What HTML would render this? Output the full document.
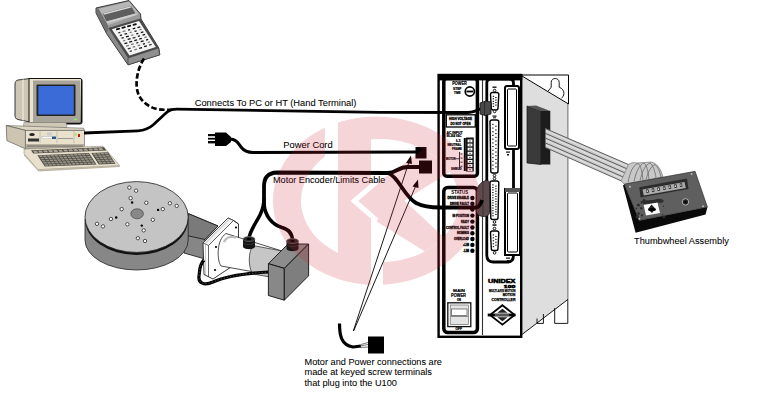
<!DOCTYPE html>
<html><head><meta charset="utf-8">
<style>
html,body{margin:0;padding:0;background:#fff;}
body{width:759px;height:401px;overflow:hidden;position:relative;}
svg{position:absolute;left:0;top:0;}
.t{font-family:"Liberation Sans",sans-serif;fill:#000;}
.lab{stroke:#000;stroke-width:0.06;}
</style></head><body>
<svg width="759" height="401" viewBox="0 0 759 401">
<rect width="759" height="401" fill="#fff"/>
<!-- ===== CONTROLLER ===== -->
<g id="ctrl">
  <!-- side panel -->
  <polygon points="522,76 568,104 568,299.5 522,334.5" fill="#dedede"/>
  <polyline points="522,75 568.5,75 568.5,104 522,76" fill="none" stroke="#000" stroke-width="1"/>
  <line x1="567.8" y1="104" x2="567.8" y2="299" stroke="#999" stroke-width="1.6"/>
  <line x1="522" y1="334.5" x2="567.8" y2="299.5" stroke="#000" stroke-width="0.9"/>
  <path d="M554.7,308 L554.7,323.4 L567.8,323.4 L567.8,299" fill="none" stroke="#000" stroke-width="0.9"/>
  <path d="M537,318.5 L537,323.4 L543.4,323.4 L543.4,314" fill="none" stroke="#000" stroke-width="0.9"/>
  <!-- keyhole -->
  <path d="M548,91.2 C549,89.5 550.5,88.5 551.2,87.2 L551.2,82.4 C551.2,77.2 559.2,77.2 559.2,82.4 L559.2,87.2 C562,88.3 564,90.5 563.9,93.5 C563.8,95.5 562.6,97.2 561.5,98.3" fill="none" stroke="#000" stroke-width="0.9"/>
  <!-- front box -->
  <rect x="438.6" y="75" width="82.6" height="261.8" fill="#fff" stroke="#000" stroke-width="2.4"/>
  <line x1="482.5" y1="76" x2="482.5" y2="335" stroke="#333" stroke-width="1.1"/>
  <!-- left panels -->
  <rect x="443.8" y="78.5" width="33.6" height="97.7" rx="3" fill="none" stroke="#000" stroke-width="3.5"/>
  <rect x="438" y="74" width="84.2" height="6.4" fill="#000"/>
  <rect x="443.8" y="187.4" width="33.6" height="145.2" rx="4" fill="none" stroke="#000" stroke-width="3.5"/>
  <!-- middle panel -->
  <path d="M486.8,83 Q486.8,79 490.5,79 L510,79 Q513.5,79 513.5,83 L513.5,255 Q513.5,262 508,262 L493,262 Q486.8,262 486.8,255 Z" fill="none" stroke="#000" stroke-width="2.8"/>

  <!-- POWER section -->
  <g class="t" font-weight="bold" stroke="#000" stroke-width="0.2">
    <text x="452.3" y="84.8" font-size="4.6" textLength="14.5" lengthAdjust="spacingAndGlyphs">POWER</text>
    <text x="453" y="90.3" font-size="3" textLength="8.5" lengthAdjust="spacingAndGlyphs">STEP</text>
    <text x="454" y="93.8" font-size="3" textLength="6.5" lengthAdjust="spacingAndGlyphs">TIME</text>
  </g>
  <circle cx="469.8" cy="91.5" r="4.6" fill="#fff" stroke="#000" stroke-width="1.6"/>
  <rect x="466.4" y="90.6" width="6.8" height="1.8" fill="#000"/>
  <rect x="446.3" y="114.8" width="29" height="12.2" fill="#fff" stroke="#000" stroke-width="1.3"/>
  <g class="t" font-weight="bold" font-size="3.4" stroke="#000" stroke-width="0.3">
    <text x="449" y="119.8" textLength="23" lengthAdjust="spacingAndGlyphs">HIGH VOLTAGE</text>
    <text x="450.5" y="124.6" textLength="20" lengthAdjust="spacingAndGlyphs">DO NOT OPEN</text>
  </g>
  <g class="t" font-weight="bold" stroke="#000" stroke-width="0.2">
    <text x="446.5" y="133.6" font-size="3" textLength="16" lengthAdjust="spacingAndGlyphs">AC INPUT</text>
    <text x="446.5" y="137" font-size="3" textLength="15" lengthAdjust="spacingAndGlyphs">90-264 VAC</text>
  </g>
  <!-- terminal block -->
  <rect x="463.8" y="138" width="2" height="33" fill="#000"/>
  <rect x="466" y="137.5" width="7.8" height="34" fill="#111"/>
  <g fill="#fff">
    <rect x="467.6" y="139.5" width="4.8" height="2.8"/>
    <rect x="467.6" y="143.6" width="4.8" height="2.8"/>
    <rect x="467.6" y="147.7" width="4.8" height="2.8"/>
    <rect x="467.6" y="151.8" width="4.8" height="2.8"/>
    <rect x="467.6" y="155.9" width="4.8" height="2.8"/>
    <rect x="467.6" y="160.0" width="4.8" height="2.8"/>
    <rect x="467.6" y="164.1" width="4.8" height="2.8"/>
    <rect x="467.6" y="168.2" width="4.8" height="2.8"/>
  </g>
  <g fill="#000">
    <rect x="469.4" y="140.5" width="1.2" height="1"/>
    <rect x="469.4" y="144.6" width="1.2" height="1"/>
    <rect x="469.4" y="148.7" width="1.2" height="1"/>
    <rect x="469.4" y="152.8" width="1.2" height="1"/>
    <rect x="469.4" y="156.9" width="1.2" height="1"/>
    <rect x="469.4" y="161.0" width="1.2" height="1"/>
    <rect x="469.4" y="165.1" width="1.2" height="1"/>
    <rect x="469.4" y="169.2" width="1.2" height="1"/>
  </g>
  <g class="t" font-weight="bold" font-size="3" stroke="#000" stroke-width="0.2">
    <text x="456" y="141.8" textLength="5" lengthAdjust="spacingAndGlyphs">L1</text>
    <text x="447.5" y="146.2" textLength="14" lengthAdjust="spacingAndGlyphs">NEUTRAL</text>
    <text x="452" y="150.4" textLength="10" lengthAdjust="spacingAndGlyphs">FRAME</text>
    <text x="446" y="159.6" textLength="9.5" lengthAdjust="spacingAndGlyphs">MOTOR</text>
    <text x="451" y="169.8" textLength="10.5" lengthAdjust="spacingAndGlyphs">SHIELD</text>
  </g>
  <g fill="#111">
    <rect x="459" y="152" width="0.9" height="17"/>
    <rect x="455.5" y="158.4" width="3.5" height="0.8"/>
    <rect x="460.5" y="153.5" width="2" height="0.9"/><rect x="460.5" y="157.6" width="2" height="0.9"/>
    <rect x="460.5" y="161.7" width="2" height="0.9"/><rect x="460.5" y="165.8" width="2" height="0.9"/>
  </g>
  <!-- STATUS section -->
  <text class="t" x="451.2" y="194.4" font-size="5" font-weight="bold" textLength="17" lengthAdjust="spacingAndGlyphs">STATUS</text>
  <g fill="#000">
    <circle cx="472.4" cy="198" r="2.2"/><circle cx="472.4" cy="203.8" r="2.2"/>
    <circle cx="472.4" cy="209.6" r="2.2"/><circle cx="472.4" cy="215.6" r="2.2"/>
    <circle cx="472.4" cy="221.6" r="2.2"/><circle cx="472.4" cy="227.5" r="2.2"/>
    <circle cx="472.4" cy="233.2" r="2.2"/><circle cx="472.4" cy="239" r="2.2"/>
    <circle cx="472.4" cy="244.9" r="2.2"/><circle cx="472.4" cy="250.7" r="2.2"/>
  </g>
  <g class="t" font-weight="bold" font-size="3" stroke="#000" stroke-width="0.3">
    <text x="447.5" y="199" textLength="21.5" lengthAdjust="spacingAndGlyphs">DRIVE ENABLE</text>
    <text x="450" y="204.8" textLength="19" lengthAdjust="spacingAndGlyphs">DRIVE FAULT</text>
    <text x="452.5" y="216.6" textLength="16.5" lengthAdjust="spacingAndGlyphs">IN POSITION</text>
    <text x="461" y="222.6" textLength="8" lengthAdjust="spacingAndGlyphs">READY</text>
    <text x="446" y="228.5" textLength="23" lengthAdjust="spacingAndGlyphs">CONTROL FAULT</text>
    <text x="457" y="234.2" textLength="12" lengthAdjust="spacingAndGlyphs">HOMING</text>
    <text x="454" y="240" textLength="15" lengthAdjust="spacingAndGlyphs">OVERLOAD</text>
    <text x="463" y="245.9" textLength="6" lengthAdjust="spacingAndGlyphs">+LIM</text>
    <text x="463" y="251.7" textLength="6" lengthAdjust="spacingAndGlyphs">-LIM</text>
  </g>
  <!-- MAIN POWER -->
  <g class="t" font-weight="bold" stroke="#000" stroke-width="0.2">
    <text x="453" y="291.8" font-size="4.2" textLength="12" lengthAdjust="spacingAndGlyphs">MAIN</text>
    <text x="451" y="297.2" font-size="4.5" textLength="15" lengthAdjust="spacingAndGlyphs">POWER</text>
    <text x="457" y="300.9" font-size="2.6" textLength="4" lengthAdjust="spacingAndGlyphs">ON</text>
    <text x="455.5" y="330.4" font-size="2.8" textLength="6.5" lengthAdjust="spacingAndGlyphs">OFF</text>
  </g>
  <rect x="447.8" y="302.8" width="23" height="23.8" fill="#fff" stroke="#111" stroke-width="1.3"/>
  <rect x="450.2" y="305" width="18.2" height="19.5" fill="#e4e4e4" stroke="#555" stroke-width="0.6"/>
  <rect x="451.5" y="309" width="15.5" height="6.5" fill="#fff" stroke="#333" stroke-width="0.6"/>
  <rect x="450.2" y="316" width="18.2" height="1" fill="#888"/>

  <!-- middle connectors -->
  <g><path d="M490.5,94.5 Q490.5,92.5 492.5,92.5 L496.8,92.5 Q498.8,92.5 498.8,94.5 L498.0,108.0 Q498.0,110.0 496.2,110.0 L493.1,110.0 Q491.3,110.0 491.3,108.0 Z" fill="#fff" stroke="#000" stroke-width="1.4"/><rect x="492.7" y="95.8" width="1.4" height="1.1" fill="#111"/><rect x="492.7" y="98.2" width="1.4" height="1.1" fill="#111"/><rect x="492.7" y="100.8" width="1.4" height="1.1" fill="#111"/><rect x="492.7" y="103.2" width="1.4" height="1.1" fill="#111"/><rect x="492.7" y="105.8" width="1.4" height="1.1" fill="#111"/><rect x="495.2" y="97.0" width="1.4" height="1.1" fill="#111"/><rect x="495.2" y="99.5" width="1.4" height="1.1" fill="#111"/><rect x="495.2" y="102.0" width="1.4" height="1.1" fill="#111"/><rect x="495.2" y="104.5" width="1.4" height="1.1" fill="#111"/><path d="M490,122 Q490,120 492,120 L496.8,120 Q498.8,120 498.8,122 L498.0,171 Q498.0,173 496.2,173 L492.6,173 Q490.8,173 490.8,171 Z" fill="#fff" stroke="#000" stroke-width="1.4"/><rect x="492.2" y="123.8" width="1.4" height="1.1" fill="#111"/><rect x="492.2" y="127.5" width="1.4" height="1.1" fill="#111"/><rect x="492.2" y="131.2" width="1.4" height="1.1" fill="#111"/><rect x="492.2" y="134.9" width="1.4" height="1.1" fill="#111"/><rect x="492.2" y="138.6" width="1.4" height="1.1" fill="#111"/><rect x="492.2" y="142.3" width="1.4" height="1.1" fill="#111"/><rect x="492.2" y="146.0" width="1.4" height="1.1" fill="#111"/><rect x="492.2" y="149.7" width="1.4" height="1.1" fill="#111"/><rect x="492.2" y="153.4" width="1.4" height="1.1" fill="#111"/><rect x="492.2" y="157.1" width="1.4" height="1.1" fill="#111"/><rect x="492.2" y="160.8" width="1.4" height="1.1" fill="#111"/><rect x="492.2" y="164.5" width="1.4" height="1.1" fill="#111"/><rect x="492.2" y="168.2" width="1.4" height="1.1" fill="#111"/><rect x="495.2" y="125.7" width="1.4" height="1.1" fill="#111"/><rect x="495.2" y="129.4" width="1.4" height="1.1" fill="#111"/><rect x="495.2" y="133.1" width="1.4" height="1.1" fill="#111"/><rect x="495.2" y="136.8" width="1.4" height="1.1" fill="#111"/><rect x="495.2" y="140.5" width="1.4" height="1.1" fill="#111"/><rect x="495.2" y="144.2" width="1.4" height="1.1" fill="#111"/><rect x="495.2" y="147.8" width="1.4" height="1.1" fill="#111"/><rect x="495.2" y="151.5" width="1.4" height="1.1" fill="#111"/><rect x="495.2" y="155.2" width="1.4" height="1.1" fill="#111"/><rect x="495.2" y="158.9" width="1.4" height="1.1" fill="#111"/><rect x="495.2" y="162.6" width="1.4" height="1.1" fill="#111"/><rect x="495.2" y="166.3" width="1.4" height="1.1" fill="#111"/><path d="M490,183 Q490,181 492,181 L496.8,181 Q498.8,181 498.8,183 L498.0,217.5 Q498.0,219.5 496.2,219.5 L492.6,219.5 Q490.8,219.5 490.8,217.5 Z" fill="#fff" stroke="#000" stroke-width="1.4"/><rect x="492.2" y="184.3" width="1.4" height="1.1" fill="#111"/><rect x="492.2" y="186.9" width="1.4" height="1.1" fill="#111"/><rect x="492.2" y="189.4" width="1.4" height="1.1" fill="#111"/><rect x="492.2" y="192.0" width="1.4" height="1.1" fill="#111"/><rect x="492.2" y="194.6" width="1.4" height="1.1" fill="#111"/><rect x="492.2" y="197.2" width="1.4" height="1.1" fill="#111"/><rect x="492.2" y="199.8" width="1.4" height="1.1" fill="#111"/><rect x="492.2" y="202.3" width="1.4" height="1.1" fill="#111"/><rect x="492.2" y="204.9" width="1.4" height="1.1" fill="#111"/><rect x="492.2" y="207.5" width="1.4" height="1.1" fill="#111"/><rect x="492.2" y="210.1" width="1.4" height="1.1" fill="#111"/><rect x="492.2" y="212.6" width="1.4" height="1.1" fill="#111"/><rect x="492.2" y="215.2" width="1.4" height="1.1" fill="#111"/><rect x="495.2" y="185.6" width="1.4" height="1.1" fill="#111"/><rect x="495.2" y="188.2" width="1.4" height="1.1" fill="#111"/><rect x="495.2" y="190.7" width="1.4" height="1.1" fill="#111"/><rect x="495.2" y="193.3" width="1.4" height="1.1" fill="#111"/><rect x="495.2" y="195.9" width="1.4" height="1.1" fill="#111"/><rect x="495.2" y="198.5" width="1.4" height="1.1" fill="#111"/><rect x="495.2" y="201.0" width="1.4" height="1.1" fill="#111"/><rect x="495.2" y="203.6" width="1.4" height="1.1" fill="#111"/><rect x="495.2" y="206.2" width="1.4" height="1.1" fill="#111"/><rect x="495.2" y="208.8" width="1.4" height="1.1" fill="#111"/><rect x="495.2" y="211.3" width="1.4" height="1.1" fill="#111"/><rect x="495.2" y="213.9" width="1.4" height="1.1" fill="#111"/><path d="M490.5,233 Q490.5,231 492.5,231 L496.8,231 Q498.8,231 498.8,233 L498.0,248.5 Q498.0,250.5 496.2,250.5 L493.1,250.5 Q491.3,250.5 491.3,248.5 Z" fill="#fff" stroke="#000" stroke-width="1.4"/><rect x="492.7" y="234.4" width="1.4" height="1.1" fill="#111"/><rect x="492.7" y="237.3" width="1.4" height="1.1" fill="#111"/><rect x="492.7" y="240.2" width="1.4" height="1.1" fill="#111"/><rect x="492.7" y="243.2" width="1.4" height="1.1" fill="#111"/><rect x="492.7" y="246.1" width="1.4" height="1.1" fill="#111"/><rect x="495.2" y="235.9" width="1.4" height="1.1" fill="#111"/><rect x="495.2" y="238.8" width="1.4" height="1.1" fill="#111"/><rect x="495.2" y="241.7" width="1.4" height="1.1" fill="#111"/><rect x="495.2" y="244.6" width="1.4" height="1.1" fill="#111"/><circle cx="494.6" cy="90.5" r="1.3" fill="#fff" stroke="#000" stroke-width="0.9"/>
  <circle cx="494.6" cy="111.5" r="1.3" fill="#fff" stroke="#000" stroke-width="0.9"/>
  <circle cx="494.5" cy="175.5" r="1.3" fill="#fff" stroke="#000" stroke-width="0.9"/>
  <circle cx="494.5" cy="178.6" r="1.3" fill="#fff" stroke="#000" stroke-width="0.9"/>
  <circle cx="494.5" cy="222" r="1.3" fill="#fff" stroke="#000" stroke-width="0.9"/>
  <circle cx="494.5" cy="228.5" r="1.3" fill="#fff" stroke="#000" stroke-width="0.9"/>
  <circle cx="494.6" cy="252.8" r="1.3" fill="#fff" stroke="#000" stroke-width="0.9"/>
  </g>
  <g fill="#111">
    <rect x="492.5" y="86.5" width="4" height="1.4"/>
    <rect x="492.5" y="115.5" width="4" height="1.2"/><rect x="493" y="117.3" width="3" height="1"/>
    <rect x="492.5" y="224.3" width="4" height="1.5"/>
  </g>
  <!-- centronics -->
  <rect x="505" y="86" width="14" height="63" rx="2" fill="#fff" stroke="#000" stroke-width="2"/>
  <rect x="507.5" y="89" width="9" height="57" rx="1" fill="#fff" stroke="#000" stroke-width="1"/>
  <rect x="505" y="189" width="15" height="66" fill="#fff" stroke="#000" stroke-width="2"/>
  <rect x="505" y="188" width="15" height="4" fill="#555"/>
  <rect x="507.5" y="193" width="10" height="59" rx="1" fill="#fff" stroke="#000" stroke-width="1"/>
  <g fill="#111">
    <rect x="506" y="151.5" width="4" height="1.2"/><rect x="507" y="154" width="2" height="1.5"/>
    <rect x="506" y="257.5" width="4" height="1.2"/><rect x="507" y="260" width="3" height="1"/>
  </g>
  <!-- UNIDEX -->
  <g class="t" font-weight="bold" stroke="#000" stroke-width="0.5">
    <text x="488" y="283.2" font-size="5.4" textLength="27.4" lengthAdjust="spacingAndGlyphs">UNIDEX</text>
    <text x="503.8" y="288.2" font-size="4.4" textLength="11.6" lengthAdjust="spacingAndGlyphs">100</text>
  </g>
  <g class="t" font-weight="bold" font-size="3.6" stroke="#000" stroke-width="0.25">
    <text x="489" y="292.4" textLength="26.4" lengthAdjust="spacingAndGlyphs">MULTI-AXIS MOTION</text>
    <text x="502.7" y="296.2" textLength="12.7" lengthAdjust="spacingAndGlyphs">MOTION</text>
    <text x="491.5" y="300.6" textLength="23.9" lengthAdjust="spacingAndGlyphs">CONTROLLER</text>
  </g>
  <!-- diamond logo -->
  <polygon points="502.4,305.2 514.7,315 502.4,324.6 490,315" fill="#fff" stroke="#000" stroke-width="1.8"/>
  <polygon points="502.4,308.8 507.5,312.8 497.3,312.8" fill="#222"/>
  <polygon points="502.4,321.2 507.5,317.2 497.3,317.2" fill="#222"/>
  <rect x="487.7" y="313.6" width="27.7" height="2.8" fill="#000"/>
  <rect x="495" y="314.5" width="14" height="1" fill="#aaa"/>
</g>

<!-- ===== HAND TERMINAL ===== -->
<g id="ht">
  <polygon points="96,8 129,0.5 140.5,14 141,19 158.8,48 159.8,54.8 128,64.8 106.5,33.5 96,13" fill="#8a8a8a" stroke="#2a2a2a" stroke-width="0.9"/>
  <polygon points="98.5,8.8 129,1.5 139.5,14.2 108,25.5" fill="#b6b6b6"/>
  <polygon points="96.5,9 98.5,8.8 108,25.5 108,31 106.8,32.5 96.5,13" fill="#707070"/>
  <polygon points="102.5,13.5 131,6 135.5,13.5 106.5,21.5" fill="#5e5e5e"/>
  <polygon points="103,13.4 130.5,6.2 131.5,7.6 104,14.8" fill="#d6d6d6"/>
  <polygon points="106.5,21.5 135.5,13.5 136.5,15 107.5,23" fill="#cfcfcf"/>
  <polygon points="108,25.5 139.5,14.2 140.5,18.5 108.3,28" fill="#9a9a9a"/>
  <polygon points="108.3,28 140.5,18.5 158.5,48 128,58" fill="#4a4a4a"/>
  <polygon points="111.8,29.2 139,21 155.8,47 129.5,55.6" fill="#f4f4f4"/>
  <polygon points="128,58 158.5,48 159.8,54.8 128,64.8" fill="#909090" stroke="#333" stroke-width="0.6"/>
  <g><rect x="116.0" y="28.0" width="4" height="2" rx="0.6" fill="#111" transform="rotate(-15 118.0 29.0)"/><rect x="121.6" y="26.5" width="4" height="2" rx="0.6" fill="#111" transform="rotate(-15 123.6 27.5)"/><rect x="127.1" y="25.0" width="4" height="2" rx="0.6" fill="#111" transform="rotate(-15 129.1 26.0)"/><rect x="132.7" y="23.5" width="4" height="2" rx="0.6" fill="#111" transform="rotate(-15 134.7 24.5)"/><rect x="118.2" y="32.0" width="2.2" height="1.3" fill="#333" transform="rotate(-15 119.2 32.6)"/><rect x="122.6" y="30.6" width="3.0" height="1.3" fill="#777" transform="rotate(-15 124.1 31.3)"/><rect x="128.0" y="29.3" width="2.2" height="1.3" fill="#111" transform="rotate(-15 129.1 29.9)"/><rect x="132.7" y="27.9" width="2.6" height="1.3" fill="#111" transform="rotate(-15 134.0 28.5)"/><rect x="137.4" y="26.5" width="3.0" height="1.3" fill="#111" transform="rotate(-15 138.9 27.2)"/><rect x="119.8" y="34.6" width="2.2" height="1.3" fill="#111" transform="rotate(-15 120.9 35.3)"/><rect x="124.5" y="33.2" width="2.6" height="1.3" fill="#111" transform="rotate(-15 125.8 33.9)"/><rect x="129.6" y="31.8" width="2.2" height="1.3" fill="#777" transform="rotate(-15 130.7 32.5)"/><rect x="134.5" y="30.4" width="2.2" height="1.3" fill="#111" transform="rotate(-15 135.6 31.1)"/><rect x="139.4" y="29.0" width="2.2" height="1.3" fill="#777" transform="rotate(-15 140.5 29.7)"/><rect x="121.5" y="37.2" width="2.2" height="1.3" fill="#111" transform="rotate(-15 122.5 37.9)"/><rect x="125.9" y="35.8" width="3.0" height="1.3" fill="#111" transform="rotate(-15 127.4 36.5)"/><rect x="131.2" y="34.4" width="2.2" height="1.3" fill="#777" transform="rotate(-15 132.3 35.1)"/><rect x="136.2" y="33.0" width="2.2" height="1.3" fill="#111" transform="rotate(-15 137.2 33.6)"/><rect x="140.8" y="31.6" width="2.6" height="1.3" fill="#111" transform="rotate(-15 142.2 32.2)"/><rect x="123.1" y="39.9" width="2.2" height="1.3" fill="#777" transform="rotate(-15 124.2 40.5)"/><rect x="127.6" y="38.4" width="3.0" height="1.3" fill="#111" transform="rotate(-15 129.1 39.1)"/><rect x="132.5" y="37.0" width="3.0" height="1.3" fill="#333" transform="rotate(-15 134.0 37.6)"/><rect x="137.8" y="35.5" width="2.2" height="1.3" fill="#111" transform="rotate(-15 138.9 36.2)"/><rect x="142.5" y="34.1" width="2.6" height="1.3" fill="#111" transform="rotate(-15 143.8 34.7)"/><rect x="124.4" y="42.5" width="3.0" height="1.3" fill="#111" transform="rotate(-15 125.9 43.2)"/><rect x="129.2" y="41.0" width="3.0" height="1.3" fill="#111" transform="rotate(-15 130.8 41.7)"/><rect x="134.2" y="39.6" width="3.0" height="1.3" fill="#111" transform="rotate(-15 135.7 40.2)"/><rect x="139.2" y="38.1" width="2.6" height="1.3" fill="#111" transform="rotate(-15 140.6 38.7)"/><rect x="144.2" y="36.6" width="2.6" height="1.3" fill="#777" transform="rotate(-15 145.5 37.2)"/><rect x="126.0" y="45.1" width="3.0" height="1.3" fill="#777" transform="rotate(-15 127.5 45.8)"/><rect x="131.1" y="43.6" width="2.6" height="1.3" fill="#777" transform="rotate(-15 132.4 44.3)"/><rect x="136.2" y="42.1" width="2.2" height="1.3" fill="#333" transform="rotate(-15 137.3 42.8)"/><rect x="140.7" y="40.6" width="3.0" height="1.3" fill="#111" transform="rotate(-15 142.2 41.3)"/><rect x="146.0" y="39.1" width="2.2" height="1.3" fill="#111" transform="rotate(-15 147.1 39.8)"/><rect x="127.7" y="47.8" width="3.0" height="1.3" fill="#333" transform="rotate(-15 129.2 48.4)"/><rect x="132.7" y="46.2" width="2.6" height="1.3" fill="#777" transform="rotate(-15 134.0 46.9)"/><rect x="137.6" y="44.7" width="2.6" height="1.3" fill="#777" transform="rotate(-15 138.9 45.4)"/><rect x="142.8" y="43.2" width="2.2" height="1.3" fill="#111" transform="rotate(-15 143.8 43.8)"/><rect x="147.7" y="41.6" width="2.2" height="1.3" fill="#777" transform="rotate(-15 148.8 42.3)"/><rect x="129.7" y="50.4" width="2.2" height="1.3" fill="#333" transform="rotate(-15 130.8 51.1)"/><rect x="134.4" y="48.8" width="2.6" height="1.3" fill="#777" transform="rotate(-15 135.7 49.5)"/><rect x="139.1" y="47.3" width="3.0" height="1.3" fill="#111" transform="rotate(-15 140.6 47.9)"/><rect x="144.0" y="45.7" width="3.0" height="1.3" fill="#111" transform="rotate(-15 145.5 46.4)"/><rect x="149.1" y="44.1" width="2.6" height="1.3" fill="#333" transform="rotate(-15 150.4 44.8)"/></g>
</g>
<!-- dashed cable -->
<path d="M144,58.5 C138,68 135.5,80 137,89 C138.5,99 146,106 156,108.8 C162,110 168,110 174,109.5" fill="none" stroke="#000" stroke-width="2.7" stroke-dasharray="5.5,2.5"/>

<!-- ===== COMPUTER ===== -->
<g id="pc">
  <!-- monitor back -->
  <path d="M18,80 L30,78.5 L30,122 L18,119.5 C15.5,119 15,117 15,115 L15,84 C15,82 16,80.5 18,80 Z" fill="#cdc6b6" stroke="#222" stroke-width="0.9"/>
  <line x1="23" y1="79.5" x2="23" y2="120.5" stroke="#e9e2d0" stroke-width="1.5"/>
  <!-- bezel -->
  <path d="M29,78.5 L80,78.5 Q82,78.5 82,80.5 L82,122.5 Q82,124 80,124 L29,124 Z" fill="#ebe3cf" stroke="#111" stroke-width="1"/>
  <path d="M33,80.5 L80,80.5 L80,122 L33,122 Z" fill="#a8a49a"/>
  <path d="M81,79 L82,80.5 L82,122.5 L80,124 L30,124 L30,122.5 L80.5,122.5 Z" fill="#111"/>
  <rect x="36.5" y="84.5" width="39" height="31.5" rx="1" fill="#222"/>
  <rect x="38.3" y="86" width="35.5" height="28.5" fill="#3b6bd6"/>
  <rect x="74.3" y="118.7" width="2.2" height="1.3" fill="#8f6"/>
  <!-- stand -->
  <polygon points="24,122.5 66,122.5 67,127.5 23,127.5" fill="#cfc8b6" stroke="#777" stroke-width="0.5"/>
  <!-- cpu -->
  <polygon points="6.2,125.5 83.7,128.2 84.4,130.3 25.4,130.3" fill="#ddd5c1" stroke="#666" stroke-width="0.6"/>
  <polygon points="6.2,125.5 25.4,130.3 25.4,148.8 6.9,140.6" fill="#cdc5b1" stroke="#444" stroke-width="0.6"/>
  <rect x="25.4" y="130.3" width="59" height="18" fill="#e9e1cc" stroke="#555" stroke-width="0.6"/>
  <line x1="40" y1="130.5" x2="40" y2="143" stroke="#999" stroke-width="0.5"/>
  <line x1="57" y1="130.5" x2="57" y2="143" stroke="#999" stroke-width="0.5"/>
  <line x1="74" y1="130.5" x2="74" y2="143" stroke="#999" stroke-width="0.5"/>
  <ellipse cx="32" cy="134.5" rx="2.8" ry="1.6" fill="#222"/>
  <rect x="28" y="138.5" width="11" height="3" fill="#333"/>
  <rect x="42" y="136.5" width="13" height="2.2" fill="#fff" stroke="#888" stroke-width="0.3"/>
  <rect x="47" y="132.5" width="5" height="3" fill="#ccc"/>
  <rect x="52" y="136.6" width="4" height="2.4" fill="#2a5590"/>
  <rect x="58" y="138" width="15" height="0.8" fill="#888"/>
  <rect x="75" y="133.5" width="2" height="2" fill="#9e3"/>
  <rect x="78" y="134" width="2" height="3" fill="#c12"/>
  <rect x="26" y="144.1" width="58.5" height="4.2" fill="#b5ad9a"/>
  <rect x="27" y="145.5" width="56" height="1.2" fill="#777"/>
  <!-- keyboard -->
  <polygon points="24.1,149 103,146.2 119.6,165.6 38,169.7 24.1,153.8" fill="#e8e0cc" stroke="#8a8475" stroke-width="0.6"/>
  <polygon points="24.1,153.8 38,169.7 119.6,165.6 120,167 38.5,171.5 24,155.5" fill="#bdb6a3"/>
<polygon points="31.0,150.2 104.0,147.3 106.2,150.6 33.2,153.6" fill="#4e4b46"/><polygon points="33.0,150.8 36.8,150.7 38.1,152.7 34.3,152.9" fill="#a8a294"/><polygon points="38.0,150.6 41.8,150.5 43.1,152.5 39.3,152.7" fill="#a8a294"/><polygon points="43.0,150.4 46.8,150.3 48.1,152.3 44.3,152.5" fill="#a8a294"/><polygon points="48.0,150.2 51.8,150.1 53.1,152.1 49.3,152.3" fill="#a8a294"/><polygon points="53.0,150.0 56.8,149.9 58.2,151.9 54.4,152.0" fill="#a8a294"/><polygon points="58.1,149.8 61.9,149.7 63.2,151.7 59.4,151.8" fill="#a8a294"/><polygon points="63.1,149.6 66.9,149.5 68.2,151.5 64.4,151.6" fill="#a8a294"/><polygon points="68.1,149.4 71.9,149.3 73.2,151.3 69.4,151.4" fill="#a8a294"/><polygon points="73.1,149.2 76.9,149.1 78.2,151.1 74.4,151.2" fill="#a8a294"/><polygon points="78.1,149.0 81.9,148.9 83.2,150.9 79.4,151.0" fill="#a8a294"/><polygon points="83.1,148.8 86.9,148.6 88.3,150.7 84.5,150.8" fill="#a8a294"/><polygon points="88.2,148.6 92.0,148.4 93.3,150.5 89.5,150.6" fill="#a8a294"/><polygon points="93.2,148.4 97.0,148.2 98.3,150.3 94.5,150.4" fill="#a8a294"/><polygon points="98.2,148.2 102.0,148.0 103.3,150.0 99.5,150.2" fill="#a8a294"/><polygon points="37.4,155.2 89.0,153.0 96.5,164.5 44.8,166.6" fill="#4e4b46"/><polygon points="91.3,153.0 108.0,152.3 115.5,163.7 98.8,164.4" fill="#4e4b46"/><polygon points="38.8,155.6 41.9,155.5 42.9,157.0 39.8,157.1" fill="#9a9486"/><polygon points="42.7,155.5 45.7,155.3 46.7,156.8 43.7,157.0" fill="#9a9486"/><polygon points="46.6,155.3 49.6,155.2 50.6,156.7 47.6,156.8" fill="#9a9486"/><polygon points="50.5,155.1 53.5,155.0 54.5,156.5 51.4,156.6" fill="#9a9486"/><polygon points="54.3,155.0 57.4,154.9 58.4,156.4 55.3,156.5" fill="#9a9486"/><polygon points="58.2,154.8 61.3,154.7 62.2,156.2 59.2,156.3" fill="#9a9486"/><polygon points="62.1,154.7 65.1,154.5 66.1,156.1 63.1,156.2" fill="#9a9486"/><polygon points="66.0,154.5 69.0,154.4 70.0,155.9 67.0,156.0" fill="#9a9486"/><polygon points="69.8,154.3 72.9,154.2 73.9,155.7 70.8,155.9" fill="#9a9486"/><polygon points="73.7,154.2 76.8,154.1 77.7,155.6 74.7,155.7" fill="#9a9486"/><polygon points="77.6,154.0 80.6,153.9 81.6,155.4 78.6,155.5" fill="#9a9486"/><polygon points="81.5,153.9 84.5,153.7 85.5,155.3 82.5,155.4" fill="#9a9486"/><polygon points="85.3,153.7 88.4,153.6 89.4,155.1 86.3,155.2" fill="#9a9486"/><polygon points="92.8,153.4 95.8,153.3 96.8,154.8 93.8,154.9" fill="#9a9486"/><polygon points="96.7,153.3 99.7,153.1 100.7,154.6 97.7,154.8" fill="#9a9486"/><polygon points="100.5,153.1 103.6,153.0 104.6,154.5 101.5,154.6" fill="#9a9486"/><polygon points="104.4,152.9 107.5,152.8 108.4,154.3 105.4,154.4" fill="#9a9486"/><polygon points="40.3,157.8 43.3,157.7 44.3,159.2 41.2,159.3" fill="#9a9486"/><polygon points="44.1,157.6 47.2,157.5 48.2,159.0 45.1,159.1" fill="#9a9486"/><polygon points="48.0,157.5 51.1,157.4 52.0,158.9 49.0,159.0" fill="#9a9486"/><polygon points="51.9,157.3 54.9,157.2 55.9,158.7 52.9,158.8" fill="#9a9486"/><polygon points="55.8,157.2 58.8,157.0 59.8,158.6 56.8,158.7" fill="#9a9486"/><polygon points="59.6,157.0 62.7,156.9 63.7,158.4 60.6,158.5" fill="#9a9486"/><polygon points="63.5,156.8 66.6,156.7 67.5,158.2 64.5,158.4" fill="#9a9486"/><polygon points="67.4,156.7 70.4,156.6 71.4,158.1 68.4,158.2" fill="#9a9486"/><polygon points="71.3,156.5 74.3,156.4 75.3,157.9 72.3,158.0" fill="#9a9486"/><polygon points="75.1,156.4 78.2,156.2 79.2,157.8 76.1,157.9" fill="#9a9486"/><polygon points="79.0,156.2 82.1,156.1 83.0,157.6 80.0,157.7" fill="#9a9486"/><polygon points="82.9,156.1 85.9,155.9 86.9,157.4 83.9,157.6" fill="#9a9486"/><polygon points="86.8,155.9 89.8,155.8 90.8,157.3 87.8,157.4" fill="#9a9486"/><polygon points="94.2,155.6 97.3,155.5 98.2,157.0 95.2,157.1" fill="#9a9486"/><polygon points="98.1,155.4 101.1,155.3 102.1,156.8 99.1,156.9" fill="#9a9486"/><polygon points="102.0,155.3 105.0,155.2 106.0,156.7 103.0,156.8" fill="#9a9486"/><polygon points="105.8,155.1 108.9,155.0 109.9,156.5 106.8,156.6" fill="#9a9486"/><polygon points="41.7,160.0 44.7,159.9 45.7,161.4 42.7,161.5" fill="#9a9486"/><polygon points="45.6,159.8 48.6,159.7 49.6,161.2 46.6,161.3" fill="#9a9486"/><polygon points="49.4,159.7 52.5,159.5 53.5,161.1 50.4,161.2" fill="#9a9486"/><polygon points="53.3,159.5 56.4,159.4 57.3,160.9 54.3,161.0" fill="#9a9486"/><polygon points="57.2,159.3 60.2,159.2 61.2,160.7 58.2,160.9" fill="#9a9486"/><polygon points="61.1,159.2 64.1,159.1 65.1,160.6 62.1,160.7" fill="#9a9486"/><polygon points="64.9,159.0 68.0,158.9 69.0,160.4 65.9,160.5" fill="#9a9486"/><polygon points="68.8,158.9 71.9,158.7 72.9,160.3 69.8,160.4" fill="#9a9486"/><polygon points="72.7,158.7 75.7,158.6 76.7,160.1 73.7,160.2" fill="#9a9486"/><polygon points="76.6,158.6 79.6,158.4 80.6,159.9 77.6,160.1" fill="#9a9486"/><polygon points="80.4,158.4 83.5,158.3 84.5,159.8 81.4,159.9" fill="#9a9486"/><polygon points="84.3,158.2 87.4,158.1 88.4,159.6 85.3,159.8" fill="#9a9486"/><polygon points="88.2,158.1 91.2,158.0 92.2,159.5 89.2,159.6" fill="#9a9486"/><polygon points="95.6,157.8 98.7,157.7 99.7,159.2 96.6,159.3" fill="#9a9486"/><polygon points="99.5,157.6 102.6,157.5 103.6,159.0 100.5,159.1" fill="#9a9486"/><polygon points="103.4,157.5 106.4,157.3 107.4,158.9 104.4,159.0" fill="#9a9486"/><polygon points="107.3,157.3 110.3,157.2 111.3,158.7 108.3,158.8" fill="#9a9486"/><polygon points="43.1,162.2 46.2,162.0 47.1,163.6 44.1,163.7" fill="#9a9486"/><polygon points="47.0,162.0 50.0,161.9 51.0,163.4 48.0,163.5" fill="#9a9486"/><polygon points="50.9,161.8 53.9,161.7 54.9,163.2 51.9,163.4" fill="#9a9486"/><polygon points="54.7,161.7 57.8,161.6 58.8,163.1 55.7,163.2" fill="#9a9486"/><polygon points="58.6,161.5 61.7,161.4 62.7,162.9 59.6,163.0" fill="#9a9486"/><polygon points="62.5,161.4 65.5,161.2 66.5,162.8 63.5,162.9" fill="#9a9486"/><polygon points="66.4,161.2 69.4,161.1 70.4,162.6 67.4,162.7" fill="#9a9486"/><polygon points="70.3,161.1 73.3,160.9 74.3,162.4 71.2,162.6" fill="#9a9486"/><polygon points="74.1,160.9 77.2,160.8 78.2,162.3 75.1,162.4" fill="#9a9486"/><polygon points="78.0,160.7 81.0,160.6 82.0,162.1 79.0,162.3" fill="#9a9486"/><polygon points="81.9,160.6 84.9,160.5 85.9,162.0 82.9,162.1" fill="#9a9486"/><polygon points="85.8,160.4 88.8,160.3 89.8,161.8 86.7,161.9" fill="#9a9486"/><polygon points="89.6,160.3 92.7,160.1 93.7,161.7 90.6,161.8" fill="#9a9486"/><polygon points="97.1,160.0 100.1,159.8 101.1,161.4 98.1,161.5" fill="#9a9486"/><polygon points="101.0,159.8 104.0,159.7 105.0,161.2 101.9,161.3" fill="#9a9486"/><polygon points="104.8,159.6 107.9,159.5 108.9,161.0 105.8,161.2" fill="#9a9486"/><polygon points="108.7,159.5 111.7,159.4 112.7,160.9 109.7,161.0" fill="#9a9486"/><polygon points="44.6,164.3 47.6,164.2 48.6,165.7 45.5,165.9" fill="#9a9486"/><polygon points="48.4,164.2 51.5,164.1 52.5,165.6 49.4,165.7" fill="#9a9486"/><polygon points="52.3,164.0 55.3,163.9 56.3,165.4 53.3,165.5" fill="#9a9486"/><polygon points="56.2,163.9 59.2,163.7 60.2,165.3 57.2,165.4" fill="#9a9486"/><polygon points="60.1,163.7 63.1,163.6 64.1,165.1 61.0,165.2" fill="#9a9486"/><polygon points="63.9,163.6 67.0,163.4 68.0,164.9 64.9,165.1" fill="#9a9486"/><polygon points="67.8,163.4 70.8,163.3 71.8,164.8 68.8,164.9" fill="#9a9486"/><polygon points="71.7,163.2 74.7,163.1 75.7,164.6 72.7,164.8" fill="#9a9486"/><polygon points="75.6,163.1 78.6,163.0 79.6,164.5 76.5,164.6" fill="#9a9486"/><polygon points="79.4,162.9 82.5,162.8 83.5,164.3 80.4,164.4" fill="#9a9486"/><polygon points="83.3,162.8 86.3,162.6 87.3,164.2 84.3,164.3" fill="#9a9486"/><polygon points="87.2,162.6 90.2,162.5 91.2,164.0 88.2,164.1" fill="#9a9486"/><polygon points="91.1,162.5 94.1,162.3 95.1,163.8 92.1,164.0" fill="#9a9486"/><polygon points="98.5,162.1 101.6,162.0 102.5,163.5 99.5,163.7" fill="#9a9486"/><polygon points="102.4,162.0 105.4,161.9 106.4,163.4 103.4,163.5" fill="#9a9486"/><polygon points="106.3,161.8 109.3,161.7 110.3,163.2 107.3,163.3" fill="#9a9486"/><polygon points="110.1,161.7 113.2,161.5 114.2,163.1 111.1,163.2" fill="#9a9486"/>
</g>
</g>
<!-- PC cable -->
<path d="M84,133 L138,130.8 Q147,130.3 153,125 L166,113 Q170,109.2 177,109.2 L380,112.3 L468,112.5 Q474,112.3 481,108.5" fill="none" stroke="#000" stroke-width="2.8"/>

<!-- connectors -->
<path d="M480,103 L486,101 L491,102 L491,114 L485,115.5 L480,114 Z" fill="#4a4a4a" stroke="#111" stroke-width="0.8"/>
<path d="M484.5,101.5 L484.5,115" stroke="#222" stroke-width="0.8"/>
<path d="M476.5,192 C477,186 481,182 486,180.5 C488.5,180 489.5,181.5 489.5,184 L489.5,212 C489.5,215 487,217 483,216.5 C478,216 476,213 476,209 Z" fill="#5c4a4c" stroke="#1a1a1a" stroke-width="0.8"/>
<path d="M483,182 L483,216" stroke="#3a2c2e" stroke-width="0.8"/>
<!-- ===== TEXT ===== -->
<text class="t lab" x="194.7" y="106.3" font-size="9.33">Connects To PC or HT (Hand Terminal)</text>
<text class="t lab" x="283.3" y="147.8" font-size="9.35">Power Cord</text>
<text class="t lab" x="273" y="183.3" font-size="9.12">Motor Encoder/Limits Cable</text>
<text class="t lab" x="634" y="244" font-size="9.22">Thumbwheel Assembly</text>
<text class="t lab" x="304.5" y="364.7" font-size="9.2">Motor and Power connections are</text>
<text class="t lab" x="304.5" y="375.3" font-size="9.25">made at keyed screw terminals</text>
<text class="t lab" x="304.5" y="385.6" font-size="9.2">that plug into the U100</text>

<!-- ===== POWER PLUG & CORD ===== -->
<g fill="#000">
  <rect x="208" y="134" width="8" height="2.2"/>
  <rect x="208" y="137.8" width="8" height="1.8"/>
  <rect x="208" y="141" width="8" height="2.4"/>
  <path d="M215,132.5 L226,132.5 L231,137 L231,142 L226,146 L215,146 Z"/>
</g>
<path d="M230,139 C236,139 238,143 241,147 C244,151 247,152.5 253,152.5 L416,152" fill="none" stroke="#000" stroke-width="3"/>
<rect x="415.5" y="147" width="11" height="11.5" fill="#000"/>
<rect x="419" y="160.5" width="13" height="13" fill="#000"/>

<!-- ===== MOTOR ENCODER CABLE ===== -->
<path d="M264,206 L264,186 Q264,173 277,172.5 L388,173 C396,173 398,167 408,167 L420,167" fill="none" stroke="#000" stroke-width="3.8"/>
<path d="M388,173 C398,176 404,196 416,203 C424,207 432,207.5 440,207.5 L476,207.5 C480,207 481,203 482,200" fill="none" stroke="#000" stroke-width="3.8"/>

<!-- arrows -->
<g stroke="#000" stroke-width="0.9" fill="none">
  <line x1="353.3" y1="331" x2="410" y2="159"/>
  <line x1="353.6" y1="331" x2="417" y2="183"/>
</g>
<polygon points="411,155.5 406,163 412,164" fill="#000"/>
<polygon points="418,179.5 412.5,186.5 418.5,188" fill="#000"/>

<!-- small terminal cable -->
<path d="M339.5,323.5 C339.5,335 341,345 353,347 L361,346" fill="none" stroke="#000" stroke-width="3.2"/>
<path d="M360,346 L368,344.5 M360,347.5 L368,347 M361,344.5 L368,342.5" stroke="#555" stroke-width="0.8"/>
<rect x="368" y="336.5" width="16" height="17" fill="#000"/>

<!-- ===== ROTARY TABLE ===== -->
<g id="table">
  <!-- gearbox housing -->
  <polygon points="184,212 188.8,213.8 218,226 205,239.5 205,259 184,253" fill="#868686" stroke="#111" stroke-width="0.8"/>
  <polygon points="188.8,213.8 218,226 205,239.5 184.5,235" fill="#7a7a7a" stroke="#111" stroke-width="0.8"/>
  <!-- cylinder side -->
  <path d="M85,219 L85,240 A51.6,30 0 0 0 188.2,240 L188.2,219 Z" fill="#878787" stroke="#222" stroke-width="0.8"/>
  <ellipse cx="136.6" cy="219.3" rx="51.6" ry="35.6" fill="#111"/>
  <ellipse cx="136.6" cy="217" rx="51.6" ry="35.4" fill="#c4c4c4" stroke="#222" stroke-width="0.8"/>
  <ellipse cx="137.1" cy="213.8" rx="6.3" ry="5" fill="#888" stroke="#333" stroke-width="0.6"/>
  <g fill="#fff" stroke="#111" stroke-width="0.7">
    <circle cx="129.3" cy="187.6" r="1.7"/><circle cx="136.1" cy="190.7" r="1.7"/>
    <circle cx="130.6" cy="198.1" r="1.7"/><circle cx="146.3" cy="202.8" r="1.7"/>
    <circle cx="169.9" cy="203.3" r="1.7"/><circle cx="176.7" cy="205.9" r="1.7"/>
    <circle cx="162.8" cy="209.1" r="1.7"/><circle cx="121.7" cy="209.1" r="1.7"/>
    <circle cx="110.9" cy="219" r="1.7"/><circle cx="152.8" cy="219.8" r="1.7"/>
    <circle cx="97" cy="223.8" r="1.7"/><circle cx="103" cy="226.4" r="1.7"/>
    <circle cx="127.4" cy="224.3" r="1.7"/><circle cx="143.7" cy="230.3" r="1.7"/>
    <circle cx="137.9" cy="238.2" r="1.7"/><circle cx="145" cy="241" r="1.7"/>
  </g>
  <g fill="#000">
    <circle cx="132.1" cy="202.5" r="1.2"/><circle cx="158.1" cy="209.9" r="1.2"/>
    <circle cx="116.2" cy="217.5" r="1.2"/><circle cx="141.8" cy="225.6" r="1.2"/>
  </g>
</g>

<!-- ===== MOTOR ===== -->
<g id="motor">
  <!-- flange -->
  <polygon points="203,243 228,218 233.5,220.5 238.5,224 238.5,262 213,279 204,274.5" fill="#fff" stroke="#222" stroke-width="0.9"/>
  <polygon points="203,243 228,218 233.5,220.5 208.5,245.5" fill="#f2f2f2" stroke="#222" stroke-width="0.7"/>
  <line x1="205" y1="243.5" x2="229" y2="219.5" stroke="#666" stroke-width="0.4"/>
  <line x1="208.5" y1="245.5" x2="208.5" y2="277" stroke="#222" stroke-width="0.7"/>
  <line x1="205.5" y1="245" x2="205.5" y2="275" stroke="#777" stroke-width="0.4"/>
  <path d="M233.5,220.5 L238.5,224" stroke="#222" stroke-width="0.7"/>
  <circle cx="216" cy="247" r="1.1" fill="#000"/><circle cx="236" cy="227.5" r="1.1" fill="#000"/>
  <circle cx="215" cy="270" r="1.1" fill="#000"/>
  <!-- motor cylinder white -->
  <path d="M226,233.5 L282,251 L282,277 L221,266 C217,261 216,240 226,233.5 Z" fill="#fff" stroke="#222" stroke-width="0.8"/>
  <path d="M253,245.5 C248,252 248,268 253,274 L282,279 L282,251 Z" fill="#c6c6c6" stroke="#222" stroke-width="0.7"/>
  <path d="M224,242 C226,237.5 231,236 236,237.5" fill="none" stroke="#bbb" stroke-width="2.4"/>
  <!-- bottom cable -->
  <path d="M204,260 C199,265 200,270 199,276 C198,283 204,286 213,282 C222,278 238,274 268,272" fill="none" stroke="#000" stroke-width="3.2"/>
  <path d="M204,260 C199,265 200,270 199,276 C198,283 204,286 213,282 C222,278 238,274 268,272" fill="none" stroke="#666" stroke-width="0.8" stroke-dasharray="1.2,2"/>
  <!-- end box -->
  <polygon points="268.4,263.7 288,244 308.6,244 284.3,268.4" fill="#8d8d8d" stroke="#111" stroke-width="0.9"/>
  <polygon points="268.4,263.7 284.3,268.4 284.3,300.2 268.4,295.5" fill="#888" stroke="#111" stroke-width="0.9"/>
  <polygon points="284.3,268.4 308.6,244 308.6,275.8 284.3,300.2" fill="#7e7e7e" stroke="#111" stroke-width="0.9"/>
  <!-- cables up -->
  <path d="M249,239 C249,232 256,223 260,215 C263,209 264,204 264,198" fill="none" stroke="#000" stroke-width="3.5"/>
  <path d="M292.5,241 C292.5,234 289.5,229.5 282,227.5 C272,224.5 265,216 264,204" fill="none" stroke="#000" stroke-width="3.5"/>
  <path d="M243,239 L243,246.5 C243,250 255,250 255,246.5 L255,239 Z" fill="#151515"/><ellipse cx="249" cy="239" rx="6" ry="2.6" fill="#2a2a2a" stroke="#777" stroke-width="0.6"/><ellipse cx="249" cy="239" rx="2.5" ry="1.1" fill="#000"/><path d="M243.3,243 C245,245 253,245 254.7,243" stroke="#555" stroke-width="0.5" fill="none"/>
  <path d="M286.5,241 L286.5,248.5 C286.5,252 298.5,252 298.5,248.5 L298.5,241 Z" fill="#151515"/><ellipse cx="292.5" cy="241" rx="6" ry="2.6" fill="#2a2a2a" stroke="#777" stroke-width="0.6"/><ellipse cx="292.5" cy="241" rx="2.5" ry="1.1" fill="#000"/><path d="M286.8,245 C288.5,247 296.5,247 298.2,245" stroke="#555" stroke-width="0.5" fill="none"/>
</g>

<!-- ===== RIBBON ===== -->
<polygon points="527,106 541,111 541,164.5 527,163" fill="#3a3a3a" stroke="#111" stroke-width="0.7"/>
<polygon points="527,106 536,105.5 550.3,111 541,111" fill="#555"/>
<polygon points="541,111 550.3,111 550.3,164.5 541,164.5" fill="#1c1c1c"/>
<polygon points="545.5,128.3 628.6,164.3 621,181 545.5,147.7" fill="#cccccc"/>
<g stroke="#3a3a3a" stroke-width="0.75">
  <line x1="545.5" y1="128.6" x2="628.6" y2="164.6"/>
  <line x1="545.5" y1="133.4" x2="626.7" y2="168.7"/>
  <line x1="545.5" y1="138.2" x2="624.8" y2="172.8"/>
  <line x1="545.5" y1="143" x2="622.9" y2="176.9"/>
  <line x1="545.5" y1="147.5" x2="621" y2="180.8"/>
</g>
<g stroke="#eee" stroke-width="0.7">
  <line x1="546" y1="130.8" x2="627.6" y2="166.4"/>
  <line x1="546" y1="135.6" x2="625.7" y2="170.5"/>
  <line x1="546" y1="140.4" x2="623.8" y2="174.6"/>
  <line x1="546" y1="145.2" x2="621.9" y2="178.7"/>
</g>
<!-- ===== THUMBWHEEL ===== -->
<g id="tw">
  <!-- fold -->
  <path d="M621,181 L628.6,164.3 C631,162.5 634,162.5 637,163 L651,162 C657,163 661,169 663,177.3 L624.4,184.2 Z" fill="#c8c8c8" stroke="#666" stroke-width="0.6"/>
  <g fill="none" stroke="#6a6a6a" stroke-width="0.8">
    <path d="M628,182.5 C630,172 633,165 638,163.5 C641,165 642,172 643,180"/>
    <path d="M634,181.5 C636,172 639,165 644,163 C647,165 648,172 649,179"/>
    <path d="M640,180.5 C642,172 645,165 650,163 C653,165 655,171 656,178"/>
    <path d="M646,179.5 C648,172 651,166 655,164.5 C658,167 660,172 661,177"/>
  </g>
  <polygon points="623,185.5 624.4,184.2 639.3,220.5 707.4,207.1 705.6,214.5 635.6,232.8" fill="#0a0a0a"/>
  <polygon points="624.4,184.2 695.1,171.3 707.4,207.1 639.3,220.5" fill="#5f5f5f" stroke="#222" stroke-width="0.6"/>
  <polygon points="639.3,187.3 687,178.5 688.5,189 640.5,197.5" fill="#2c2c2c"/>
  <polygon points="642.5,189.5 684.5,182 685.8,188 643.8,195.5" fill="#aaaaaa"/>
  <g fill="#222">
    <rect x="646.0" y="189.6" width="2.4" height="3.4" transform="rotate(-10 646.0 189.6)"/>
    <rect x="651.6" y="188.6" width="2.4" height="3.4" transform="rotate(-10 651.6 188.6)"/>
    <rect x="657.2" y="187.6" width="2.4" height="3.4" transform="rotate(-10 657.2 187.6)"/>
    <rect x="662.8" y="186.6" width="2.4" height="3.4" transform="rotate(-10 662.8 186.6)"/>
    <rect x="668.4" y="185.6" width="2.4" height="3.4" transform="rotate(-10 668.4 185.6)"/>
    <rect x="674.0" y="184.6" width="2.4" height="3.4" transform="rotate(-10 674.0 184.6)"/>
    <rect x="679.6" y="183.6" width="2.4" height="3.4" transform="rotate(-10 679.6 183.6)"/>
  </g>
  <g fill="#eee">
    <rect x="646.6" y="190.5" width="1.2" height="1.6" transform="rotate(-10 646.6 190.5)"/>
    <rect x="652.2" y="189.5" width="1.2" height="1.6" transform="rotate(-10 652.2 189.5)"/>
    <rect x="657.8" y="188.5" width="1.2" height="1.6" transform="rotate(-10 657.8 188.5)"/>
    <rect x="663.4" y="187.5" width="1.2" height="1.6" transform="rotate(-10 663.4 187.5)"/>
    <rect x="669.0" y="186.5" width="1.2" height="1.6" transform="rotate(-10 669.0 186.5)"/>
    <rect x="674.6" y="185.5" width="1.2" height="1.6" transform="rotate(-10 674.6 185.5)"/>
    <rect x="680.2" y="184.5" width="1.2" height="1.6" transform="rotate(-10 680.2 184.5)"/>
  </g>
  <circle cx="685.5" cy="201.9" r="3.2" fill="#222" stroke="#ccc" stroke-width="0.8"/>
  <circle cx="685.5" cy="201.9" r="1.2" fill="#000"/>
  <g fill="#2e2e2e"><circle cx="648.7" cy="209.1" r="1.5"/><circle cx="649.0" cy="208.1" r="1.2"/><circle cx="641.2" cy="208.2" r="1.2"/><circle cx="658.2" cy="200.7" r="0.9"/><circle cx="638.5" cy="213.6" r="1.3"/><circle cx="637.2" cy="216.7" r="1.6"/><circle cx="654.3" cy="210.1" r="0.8"/><circle cx="636.4" cy="208.5" r="0.7"/><circle cx="641.3" cy="203.4" r="0.6"/><circle cx="649.0" cy="206.9" r="1.4"/><circle cx="650.5" cy="210.5" r="1.1"/><circle cx="654.5" cy="207.2" r="0.9"/><circle cx="663.9" cy="216.9" r="1.4"/><circle cx="655.8" cy="204.7" r="0.8"/><circle cx="644.1" cy="200.3" r="1.4"/><circle cx="647.2" cy="214.2" r="1.0"/><circle cx="662.8" cy="214.3" r="0.6"/><circle cx="641.9" cy="215.4" r="1.1"/><circle cx="663.5" cy="206.2" r="0.7"/><circle cx="653.6" cy="213.0" r="0.9"/><circle cx="638.4" cy="205.0" r="1.6"/><circle cx="657.2" cy="201.1" r="0.8"/><path d="M640,202 C645,199 652,201 657,199 C660,198.5 663,199.5 664,201 L662,203 C657,202 650,204 644,204 Z"/></g>
  <polygon points="643.7,205 657.5,202.5 660,213 646,215.5" fill="#fff"/>
  <polygon points="651.5,204.5 655.5,208.8 652,213 648,209.2" fill="#222"/>
  <ellipse cx="652" cy="209.5" rx="4" ry="1.6" fill="#000"/>
  <g fill="#bbb"><circle cx="630" cy="186.8" r="1"/><circle cx="691.6" cy="174" r="1"/><circle cx="703" cy="206.2" r="1"/><circle cx="639.3" cy="218.7" r="1"/></g>
</g>


<!-- ===== WATERMARK ===== -->
<defs>
<clipPath id="inner"><ellipse cx="379.9" cy="200.7" rx="78.9" ry="61.6"/></clipPath>
<clipPath id="outer"><ellipse cx="376.4" cy="200.7" rx="103.5" ry="84.1"/></clipPath>
<mask id="wm" maskUnits="userSpaceOnUse" x="0" y="0" width="759" height="401">
  <rect width="759" height="401" fill="#000"/>
  <ellipse cx="376.4" cy="200.7" rx="103.5" ry="84.1" fill="#fff"/>
  <ellipse cx="379.9" cy="200.7" rx="78.9" ry="61.6" fill="#000"/>
  <g clip-path="url(#outer)">
    <rect x="337.9" y="100" width="33.1" height="200" fill="#fff"/>
  </g>
  <rect x="324.9" y="100" width="13" height="99" fill="#000"/>
  <rect x="371" y="240" width="12" height="60" fill="#000"/>
  <g clip-path="url(#inner)">
    <polygon points="358,201 371,187.4 500,94 500,140.2 404.3,200.5 500,289.5 500,298 371,218" fill="#fff"/>
  </g>
  <polyline points="377,181.3 354.3,201 377,220.7" fill="none" stroke="#000" stroke-width="5"/>
</mask>
</defs>
<rect width="759" height="401" fill="#d01f34" fill-opacity="0.19" mask="url(#wm)"/>
</svg>
</body></html>
